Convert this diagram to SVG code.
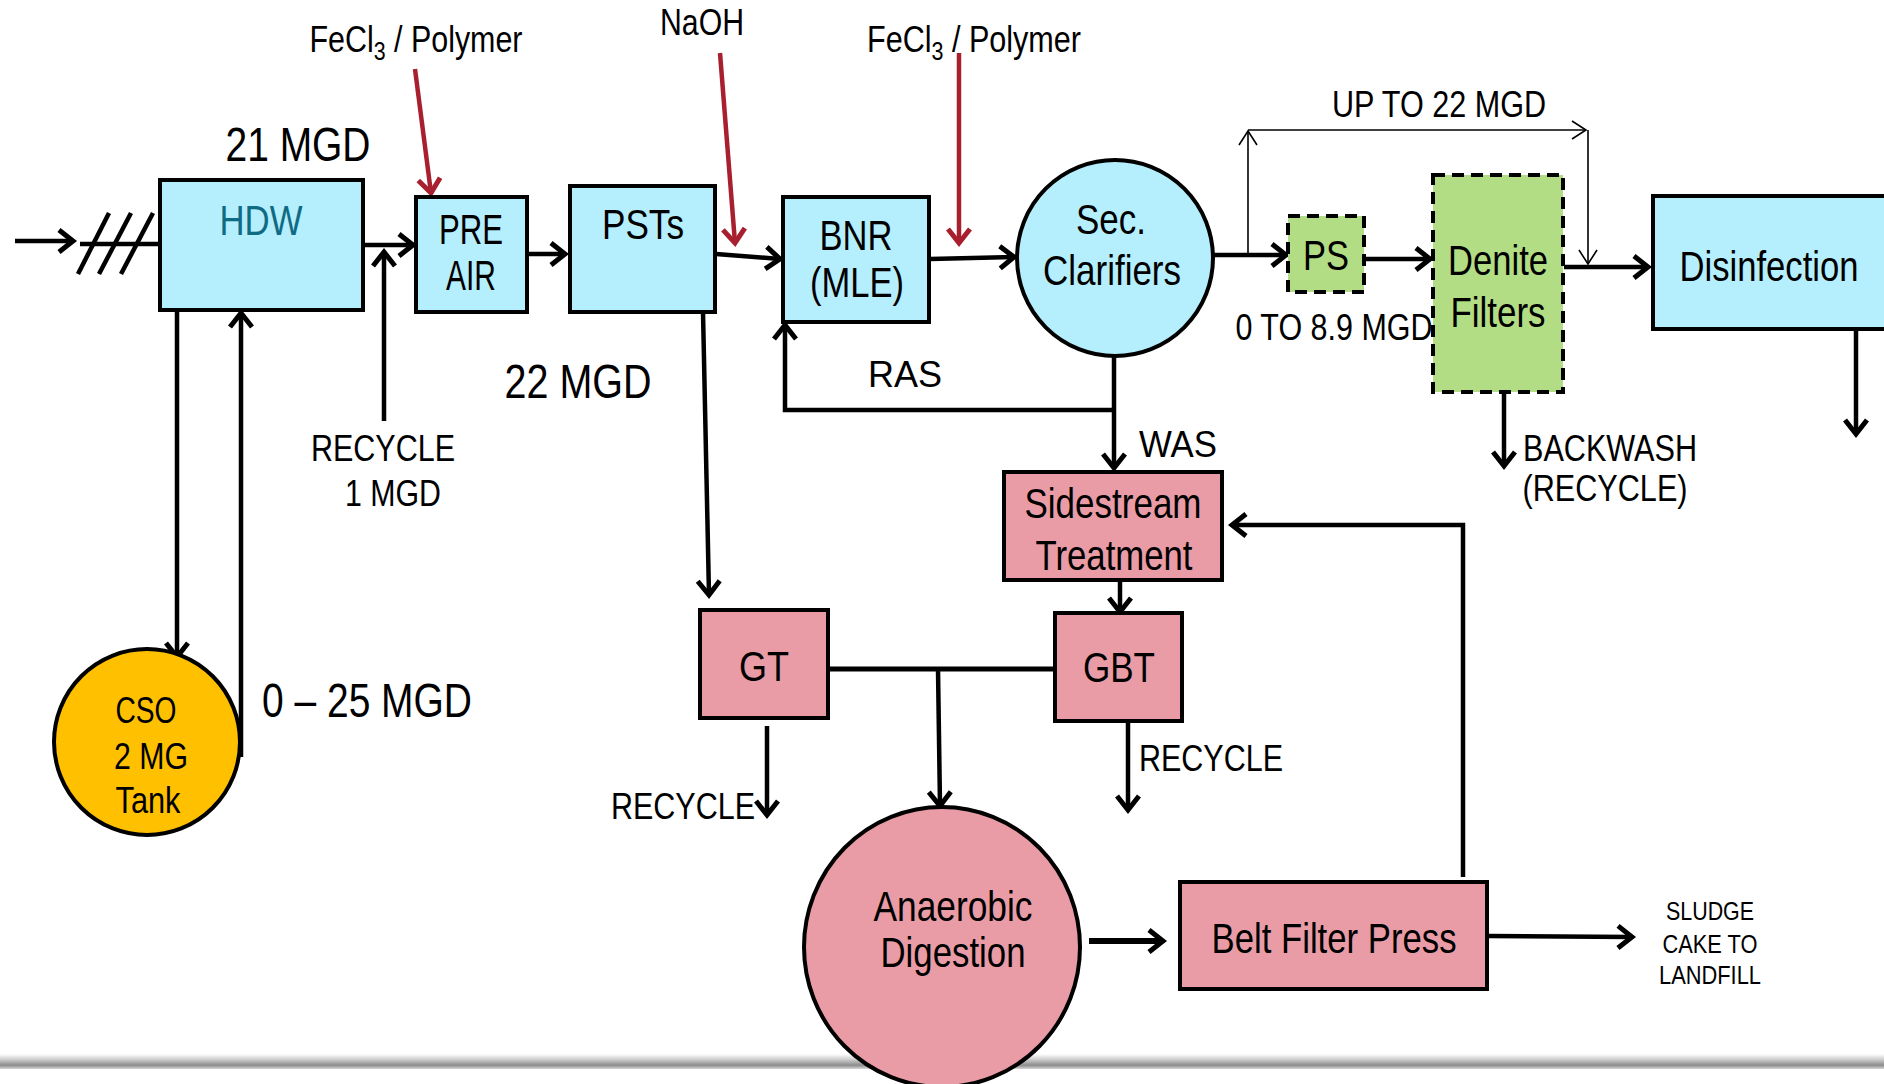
<svg xmlns="http://www.w3.org/2000/svg" width="1884" height="1084" viewBox="0 0 1884 1084">
<defs>
<style>
text{font-family:"Liberation Sans Narrow","Arial Narrow","Liberation Sans",Arial,sans-serif;fill:#000;text-anchor:middle}
.box{stroke:#000;stroke-width:4}
.cyan{fill:#B5EEFC}
.pink{fill:#E99CA5}
.green{fill:#B3DD85}
.dash{stroke-dasharray:12 7}
.ln{fill:none;stroke:#000;stroke-width:4.5}
.thin{fill:none;stroke:#000;stroke-width:1.6}
.red{fill:none;stroke:#A8202F;stroke-width:4.5}
.n42{font-size:42px}
.n37{font-size:37px}
.n48{font-size:48px}
</style>
<marker id="ah" markerUnits="userSpaceOnUse" markerWidth="40" markerHeight="40" refX="0" refY="0" viewBox="-20 -20 40 40" orient="auto" overflow="visible">
<path d="M-14,-11 L0,0 L-14,11" fill="none" stroke="#000" stroke-width="5"/>
</marker>
<marker id="ahr" markerUnits="userSpaceOnUse" markerWidth="40" markerHeight="40" refX="0" refY="0" viewBox="-20 -20 40 40" orient="auto" overflow="visible">
<path d="M-14,-11 L0,0 L-14,11" fill="none" stroke="#A8202F" stroke-width="5"/>
</marker>
<marker id="aht" markerUnits="userSpaceOnUse" markerWidth="40" markerHeight="40" refX="0" refY="0" viewBox="-20 -20 40 40" orient="auto" overflow="visible">
<path d="M-14,-9 L0,0 L-14,9" fill="none" stroke="#000" stroke-width="1.6"/>
</marker>
<linearGradient id="bar" x1="0" y1="0" x2="0" y2="1">
<stop offset="0" stop-color="#ffffff"/>
<stop offset="0.35" stop-color="#d0d0d0"/>
<stop offset="0.75" stop-color="#8c8c8c"/>
<stop offset="1" stop-color="#d8d8d8"/>
</linearGradient>
</defs>
<rect x="0" y="0" width="1884" height="1084" fill="#fff"/>
<rect x="0" y="1054" width="1884" height="15" fill="url(#bar)"/>

<g id="connectors">
<line class="ln" x1="15" y1="241" x2="73" y2="241" marker-end="url(#ah)"/>
<line class="ln" x1="80" y1="244" x2="163" y2="244"/>
<line class="ln" x1="78" y1="274" x2="109" y2="213"/>
<line class="ln" x1="99" y1="274" x2="131" y2="213"/>
<line class="ln" x1="121" y1="274" x2="153" y2="213"/>
<line class="ln" x1="364" y1="245" x2="413" y2="245" marker-end="url(#ah)"/>
<line class="ln" x1="384" y1="421" x2="384" y2="252" marker-end="url(#ah)"/>
<line class="ln" x1="504" y1="254" x2="565" y2="254" marker-end="url(#ah)"/>
<line class="ln" x1="716" y1="254" x2="780" y2="259" marker-end="url(#ah)"/>
<line class="ln" x1="930" y1="259" x2="1014" y2="257" marker-end="url(#ah)"/>
<line class="red" x1="415" y1="69" x2="431" y2="193" marker-end="url(#ahr)"/>
<line class="red" x1="720" y1="53" x2="735" y2="243" marker-end="url(#ahr)"/>
<line class="red" x1="959" y1="53" x2="959" y2="243" marker-end="url(#ahr)"/>
<line class="ln" x1="1214" y1="255" x2="1286" y2="255" marker-end="url(#ah)"/>
<polyline class="thin" points="1248,255 1248,131" marker-end="url(#aht)"/>
<polyline class="thin" points="1248,130 1586,130" marker-end="url(#aht)"/>
<polyline class="thin" points="1588,130 1588,264" marker-end="url(#aht)"/>
<line class="ln" x1="1364" y1="259" x2="1430" y2="259" marker-end="url(#ah)"/>
<line class="ln" x1="1564" y1="267" x2="1648" y2="267" marker-end="url(#ah)"/>
<line class="ln" x1="1856" y1="329" x2="1856" y2="434" marker-end="url(#ah)"/>
<line class="ln" x1="1504" y1="392" x2="1504" y2="466" marker-end="url(#ah)"/>
<line class="ln" x1="1114" y1="357" x2="1114" y2="468" marker-end="url(#ah)"/>
<polyline class="ln" points="1114,410 785,410 785,325" marker-end="url(#ah)"/>
<polyline class="ln" points="1463,877 1463,525 1232,525" marker-end="url(#ah)"/>
<line class="ln" x1="1120" y1="580" x2="1120" y2="612" marker-end="url(#ah)"/>
<line class="ln" x1="703" y1="312" x2="709" y2="595" marker-end="url(#ah)"/>
<line class="ln" x1="828" y1="669" x2="1055" y2="669" style="stroke-width:5"/>
<line class="ln" x1="938" y1="669" x2="940" y2="806" marker-end="url(#ah)"/>
<line class="ln" x1="767" y1="726" x2="767" y2="815" marker-end="url(#ah)"/>
<line class="ln" x1="1128" y1="722" x2="1128" y2="810" marker-end="url(#ah)"/>
<line class="ln" x1="1089" y1="941" x2="1163" y2="941" style="stroke-width:6" marker-end="url(#ah)"/>
<line class="ln" x1="1489" y1="936" x2="1632" y2="937" marker-end="url(#ah)"/>
<line class="ln" x1="177" y1="310" x2="177" y2="657" marker-end="url(#ah)"/>
<line class="ln" x1="241" y1="757" x2="241" y2="313" marker-end="url(#ah)"/>
</g>

<g id="labels">
<text class="n37" x="416" y="52" textLength="213" lengthAdjust="spacingAndGlyphs">FeCl<tspan font-size="26" dy="8">3</tspan><tspan dy="-8"> / Polymer</tspan></text>
<text class="n37" x="702" y="35" textLength="84" lengthAdjust="spacingAndGlyphs">NaOH</text>
<text class="n37" x="974" y="52" textLength="214" lengthAdjust="spacingAndGlyphs">FeCl<tspan font-size="26" dy="8">3</tspan><tspan dy="-8"> / Polymer</tspan></text>
<text class="n48" x="298" y="161" textLength="145" lengthAdjust="spacingAndGlyphs">21 MGD</text>
<text class="n48" x="578" y="398" textLength="147" lengthAdjust="spacingAndGlyphs">22 MGD</text>
<text class="n48" x="367" y="717" textLength="210" lengthAdjust="spacingAndGlyphs">0 – 25 MGD</text>
<text class="n37" x="383" y="461" textLength="144" lengthAdjust="spacingAndGlyphs">RECYCLE</text>
<text class="n37" x="393" y="506" textLength="96" lengthAdjust="spacingAndGlyphs">1 MGD</text>
<text class="n37" x="1439" y="117" textLength="214" lengthAdjust="spacingAndGlyphs">UP TO 22 MGD</text>
<text class="n37" x="1334" y="340" textLength="197" lengthAdjust="spacingAndGlyphs">0 TO 8.9 MGD</text>
<text class="n37" x="905" y="387" textLength="74" lengthAdjust="spacingAndGlyphs">RAS</text>
<text class="n37" x="1178" y="457" textLength="78" lengthAdjust="spacingAndGlyphs">WAS</text>
<text class="n37" x="1610" y="461" textLength="174" lengthAdjust="spacingAndGlyphs">BACKWASH</text>
<text class="n37" x="1605" y="501" textLength="165" lengthAdjust="spacingAndGlyphs">(RECYCLE)</text>
<text class="n37" x="683" y="819" textLength="144" lengthAdjust="spacingAndGlyphs">RECYCLE</text>
<text class="n37" x="1211" y="771" textLength="144" lengthAdjust="spacingAndGlyphs">RECYCLE</text>
<text x="1710" y="920" font-size="26" textLength="88" lengthAdjust="spacingAndGlyphs">SLUDGE</text>
<text x="1710" y="953" font-size="26" textLength="95" lengthAdjust="spacingAndGlyphs">CAKE TO</text>
<text x="1710" y="984" font-size="26" textLength="102" lengthAdjust="spacingAndGlyphs">LANDFILL</text>
</g>

<g id="hdw">
<rect class="box cyan" x="160" y="180" width="203" height="130"/>
<text class="n42" x="261" y="235" textLength="83" lengthAdjust="spacingAndGlyphs" style="fill:#0F6A84">HDW</text>
</g>
<g id="preair">
<rect class="box cyan" x="416" y="197" width="111" height="115"/>
<text class="n42" x="471" y="244" textLength="64" lengthAdjust="spacingAndGlyphs">PRE</text>
<text class="n42" x="471" y="290" textLength="50" lengthAdjust="spacingAndGlyphs">AIR</text>
</g>
<g id="psts">
<rect class="box cyan" x="570" y="186" width="145" height="126"/>
<text class="n42" x="643" y="239" textLength="82" lengthAdjust="spacingAndGlyphs">PSTs</text>
</g>
<g id="bnr">
<rect class="box cyan" x="783" y="197" width="146" height="125"/>
<text class="n42" x="856" y="250" textLength="73" lengthAdjust="spacingAndGlyphs">BNR</text>
<text class="n42" x="857" y="297" textLength="94" lengthAdjust="spacingAndGlyphs">(MLE)</text>
</g>
<g id="secclar">
<circle class="box cyan" cx="1115" cy="258" r="98"/>
<text class="n42" x="1111" y="234" textLength="70" lengthAdjust="spacingAndGlyphs">Sec.</text>
<text class="n42" x="1112" y="285" textLength="138" lengthAdjust="spacingAndGlyphs">Clarifiers</text>
</g>
<g id="ps">
<rect class="box green dash" x="1288" y="216" width="76" height="76"/>
<text class="n42" x="1326" y="270" textLength="46" lengthAdjust="spacingAndGlyphs">PS</text>
</g>
<g id="denite">
<rect class="box green dash" x="1433" y="175" width="130" height="217"/>
<text class="n42" x="1498" y="275" textLength="100" lengthAdjust="spacingAndGlyphs">Denite</text>
<text class="n42" x="1498" y="327" textLength="95" lengthAdjust="spacingAndGlyphs">Filters</text>
</g>
<g id="disinfection">
<rect class="box cyan" x="1653" y="196" width="233" height="133"/>
<text class="n42" x="1769" y="281" textLength="179" lengthAdjust="spacingAndGlyphs">Disinfection</text>
</g>
<g id="sidestream">
<rect class="box pink" x="1004" y="472" width="218" height="108"/>
<text class="n42" x="1113" y="518" textLength="177" lengthAdjust="spacingAndGlyphs">Sidestream</text>
<text class="n42" x="1114" y="570" textLength="157" lengthAdjust="spacingAndGlyphs">Treatment</text>
</g>
<g id="gt">
<rect class="box pink" x="700" y="610" width="128" height="108"/>
<text class="n42" x="764" y="681" textLength="50" lengthAdjust="spacingAndGlyphs">GT</text>
</g>
<g id="gbt">
<rect class="box pink" x="1055" y="613" width="127" height="108"/>
<text class="n42" x="1119" y="682" textLength="72" lengthAdjust="spacingAndGlyphs">GBT</text>
</g>
<g id="cso">
<circle class="box" cx="147" cy="742" r="93" style="fill:#FFC000"/>
<text x="146" y="723" font-size="36" textLength="61" lengthAdjust="spacingAndGlyphs">CSO</text>
<text x="151" y="769" font-size="36" textLength="74" lengthAdjust="spacingAndGlyphs">2 MG</text>
<text x="148" y="813" font-size="36" textLength="65" lengthAdjust="spacingAndGlyphs">Tank</text>
</g>
<g id="anaerobic">
<ellipse class="box pink" cx="942" cy="947" rx="138" ry="140"/>
<text class="n42" x="953" y="921" textLength="159" lengthAdjust="spacingAndGlyphs">Anaerobic</text>
<text class="n42" x="953" y="967" textLength="145" lengthAdjust="spacingAndGlyphs">Digestion</text>
</g>
<g id="beltpress">
<rect class="box pink" x="1180" y="882" width="307" height="107"/>
<text class="n42" x="1334" y="953" textLength="245" lengthAdjust="spacingAndGlyphs">Belt Filter Press</text>
</g>
</svg>
